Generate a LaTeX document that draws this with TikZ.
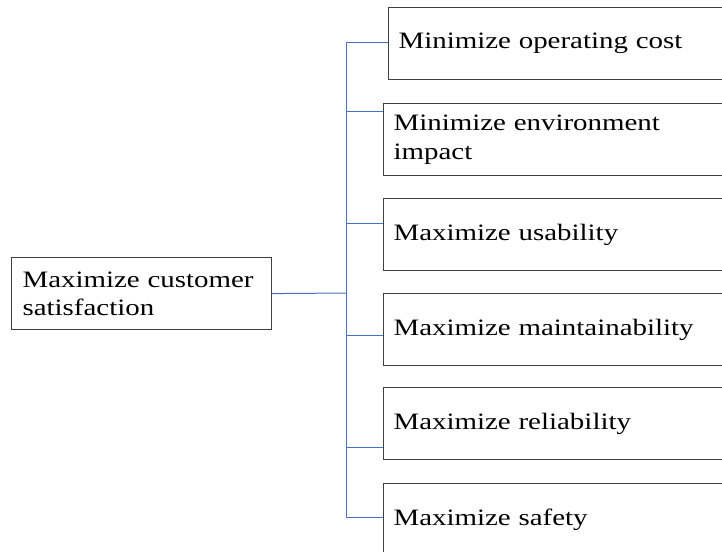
\documentclass[tikz,border=0pt]{standalone}
\usepackage{fontspec}
\setmainfont{Liberation Serif}[FakeStretch=1.23]
\definecolor{linkblue}{RGB}{68,114,196}
\definecolor{boxgray}{RGB}{64,64,64}
\begin{document}
\begin{tikzpicture}[x=1pt,y=-1pt,
  box/.style={draw=boxgray, line width=1.2pt, anchor=north west, minimum height=72pt,
    text width=#1, inner xsep=10pt, inner ysep=0pt, align=left,
    font=\fontsize{23.5}{28.5}\selectfont},
  link/.style={draw=linkblue, line width=1pt}]
\clip (0,0) rectangle (722,551);
\fill[white] (0,0) rectangle (722,551);
\node[box=238pt, inner xsep=11pt] (goal) at (11,257) {Maximize customer\\satisfaction};
\node[box=360pt] (b1) at (388,7) {Minimize operating cost};
\node[box=360pt] (b2) at (383,103) {Minimize environment\\impact};
\node[box=360pt] (b3) at (383,198) {Maximize usability};
\node[box=360pt] (b4) at (383,293) {Maximize maintainability};
\node[box=360pt] (b5) at (383,387) {Maximize reliability};
\node[box=360pt] (b6) at (383,483) {Maximize safety};
\coordinate (t1) at (346,43);
\coordinate (t2) at (346,111);
\coordinate (t3) at (346,223);
\coordinate (t4) at (346,335);
\coordinate (t5) at (346,447);
\coordinate (t6) at (346,517);
\coordinate (tm) at (346,293);
\draw[link] (t1) -- (t6);
\draw[link] (goal.east) -- (tm);
\foreach \i in {1,...,6} {
  \draw[link] (t\i) -- (t\i -| b\i.west);
}
\end{tikzpicture}
\end{document}
